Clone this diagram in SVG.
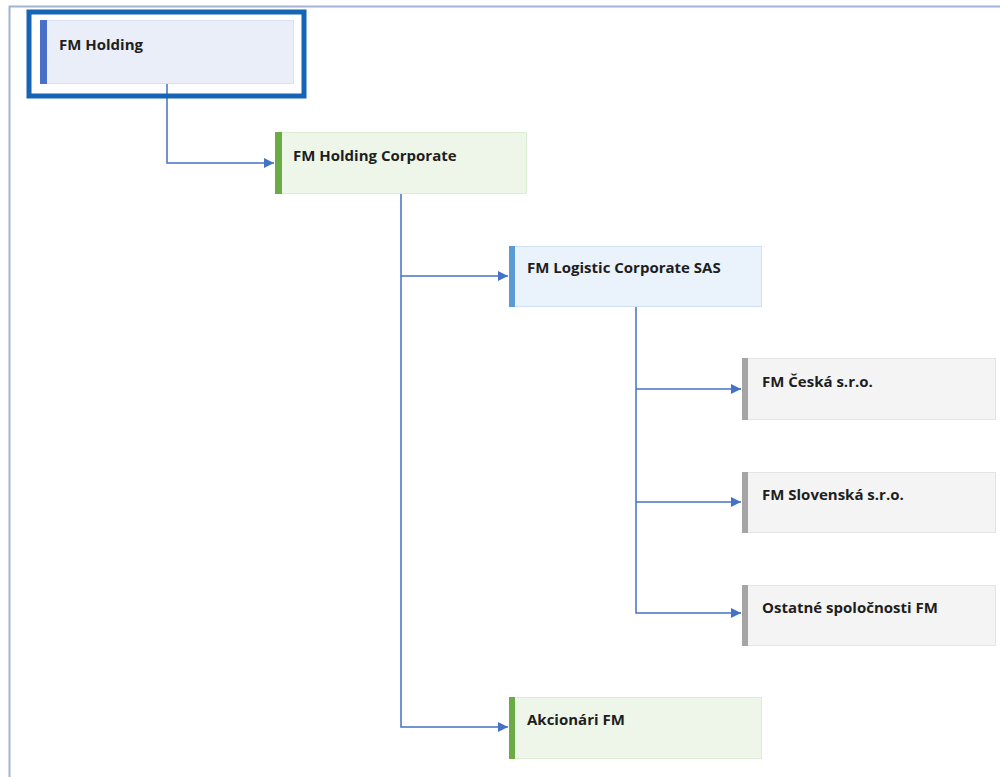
<svg xmlns="http://www.w3.org/2000/svg" width="1000" height="777" viewBox="0 0 1000 777">
<style>
.lbl{font-family:"Open Sans","Liberation Sans",sans-serif;font-weight:bold;font-size:15px;fill:#1e1e1e}
.conn{fill:none;stroke:#4472c4;stroke-width:1.5}
</style>
<defs>
<marker id="arr" viewBox="0 0 10 10" refX="10" refY="5" markerWidth="11" markerHeight="10" markerUnits="userSpaceOnUse" orient="auto">
<path d="M0,0 L10,5 L0,10 z" fill="#4472c4"/>
</marker>
</defs>
<rect width="1000" height="777" fill="#fff"/>
<path d="M9.5,777 V6.5 H1000" fill="none" stroke="#a3b3d3" stroke-width="2"/>
<g id="connectors">
<path class="conn" d="M167,84 V163 H274" marker-end="url(#arr)"/>
<path class="conn" d="M401,194 V727 H508" marker-end="url(#arr)"/>
<path class="conn" d="M401,276 H508" marker-end="url(#arr)"/>
<path class="conn" d="M636,306 V613 H741" marker-end="url(#arr)"/>
<path class="conn" d="M636,389 H741" marker-end="url(#arr)"/>
<path class="conn" d="M636,502 H741" marker-end="url(#arr)"/>
</g>
<g id="fm-holding">
<rect x="29" y="12" width="275" height="84" fill="none" stroke="#1565b4" stroke-width="5"/>
<rect x="40.5" y="20.5" width="253" height="63" fill="#e9eef8" stroke="#d8e0f2"/>
<rect x="40" y="20" width="7" height="64" fill="#4a6fc8"/>
<text class="lbl" x="59" y="50">FM Holding</text>
</g>
<g id="fm-holding-corporate">
<rect x="275.5" y="132.5" width="251" height="61" fill="#eef6ea" stroke="#dcebd3"/>
<rect x="275" y="132" width="7" height="62" fill="#6aab45"/>
<text class="lbl" x="293" y="161">FM Holding Corporate</text>
</g>
<g id="fm-logistic-corporate-sas">
<rect x="509.5" y="246.5" width="252" height="60" fill="#eaf2fb" stroke="#cfe0f3"/>
<rect x="509" y="246" width="6" height="61" fill="#5b9bd5"/>
<text class="lbl" x="527" y="273">FM Logistic Corporate SAS</text>
</g>
<g id="fm-ceska">
<rect x="742.5" y="358.5" width="253" height="61" fill="#f4f4f4" stroke="#e4e4e4"/>
<rect x="742" y="358" width="6" height="62" fill="#a5a5a5"/>
<text class="lbl" x="762" y="387">FM Česká s.r.o.</text>
</g>
<g id="fm-slovenska">
<rect x="742.5" y="472.5" width="253" height="60" fill="#f4f4f4" stroke="#e4e4e4"/>
<rect x="742" y="472" width="6" height="61" fill="#a5a5a5"/>
<text class="lbl" x="762" y="500">FM Slovenská s.r.o.</text>
</g>
<g id="ostatne">
<rect x="742.5" y="585.5" width="253" height="60" fill="#f4f4f4" stroke="#e4e4e4"/>
<rect x="742" y="585" width="6" height="61" fill="#a5a5a5"/>
<text class="lbl" x="762" y="613">Ostatné spoločnosti FM</text>
</g>
<g id="akcionari">
<rect x="509.5" y="697.5" width="252" height="61" fill="#eef6ea" stroke="#dcebd3"/>
<rect x="509" y="697" width="6" height="62" fill="#6aab45"/>
<text class="lbl" x="527" y="725">Akcionári FM</text>
</g>
</svg>
